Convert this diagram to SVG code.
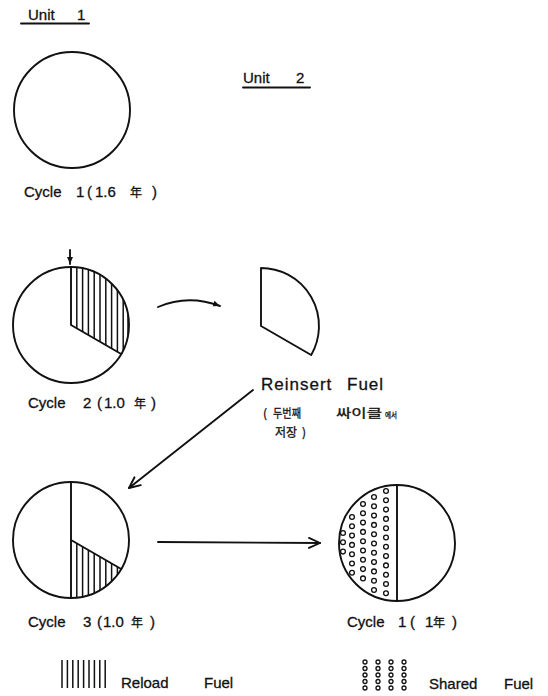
<svg xmlns="http://www.w3.org/2000/svg" width="548" height="696" viewBox="0 0 548 696">
<style>
.ln{fill:none;stroke:#111;stroke-width:1.9;stroke-linecap:round;stroke-linejoin:round}
.h{stroke:#111;stroke-width:1.5}
.dot{fill:none;stroke:#111;stroke-width:1.3}
.t{font-family:"Liberation Sans","Noto Sans CJK KR",sans-serif;font-size:15px;fill:#111;stroke:#111;stroke-width:0.3}
.big{font-size:17px;letter-spacing:1px}
.k{font-family:"Noto Sans CJK KR","Liberation Sans",sans-serif;font-size:12px;fill:#111;stroke:#111;stroke-width:0.3}
.cjk{font-family:"Noto Sans CJK KR",sans-serif;font-size:12px}
</style>
<defs>
<clipPath id="s2"><path d="M71,325 L71,267 A58,58 0 0,1 121.2,354 Z"/></clipPath>
<clipPath id="s3"><path d="M71,540 L121.2,569 A58,58 0 0,1 71,598 Z"/></clipPath>
<marker id="fa" markerWidth="8" markerHeight="8" refX="7" refY="4" orient="auto" markerUnits="userSpaceOnUse"><path d="M0,1 L7,4 L0,7 Z" fill="#111"/></marker>
<marker id="oa" markerWidth="14" markerHeight="14" refX="12" refY="7" orient="auto" markerUnits="userSpaceOnUse"><path d="M1,2 L12,7 L1,12" fill="none" stroke="#111" stroke-width="1.9" stroke-linecap="round" stroke-linejoin="round"/></marker>
</defs>
<rect width="548" height="696" fill="#fff"/>

<g id="unit1-title">
<text class="t" x="28" y="20">Unit</text><text class="t" x="77" y="20">1</text>
<line class="ln" x1="21" y1="23.5" x2="89" y2="23.5" stroke-width="1.4"/>
</g>
<g id="unit2-title">
<text class="t" x="243" y="83">Unit</text><text class="t" x="296" y="83">2</text>
<line class="ln" x1="243" y1="87.5" x2="310" y2="87.5" stroke-width="1.4"/>
</g>

<g id="u1-cycle1">
<circle class="ln" cx="72" cy="110" r="58"/>
<text class="t" y="197"><tspan x="24">Cycle</tspan><tspan x="76">1</tspan><tspan x="87">(</tspan><tspan x="95">1.6</tspan><tspan x="130" class="cjk">年</tspan><tspan x="152">)</tspan></text>
</g>

<g id="u1-cycle2">
<g clip-path="url(#s2)">
<line class="h" x1="76.8" y1="260" x2="76.8" y2="390"/><line class="h" x1="82.6" y1="260" x2="82.6" y2="390"/><line class="h" x1="88.4" y1="260" x2="88.4" y2="390"/><line class="h" x1="94.2" y1="260" x2="94.2" y2="390"/><line class="h" x1="100" y1="260" x2="100" y2="390"/><line class="h" x1="105.8" y1="260" x2="105.8" y2="390"/><line class="h" x1="111.6" y1="260" x2="111.6" y2="390"/><line class="h" x1="117.4" y1="260" x2="117.4" y2="390"/><line class="h" x1="123.2" y1="260" x2="123.2" y2="390"/><line class="h" x1="128" y1="260" x2="128" y2="390"/>
</g>
<circle class="ln" cx="71" cy="325" r="58"/>
<path class="ln" d="M71,267 L71,325 L121.2,354"/>
<text class="t" y="408"><tspan x="28">Cycle</tspan><tspan x="83">2</tspan><tspan x="97">(</tspan><tspan x="104">1.0</tspan><tspan x="134" class="cjk">年</tspan><tspan x="151">)</tspan></text>
</g>

<g id="reinsert">
<path class="ln" d="M261,326 L261,268 A58,58 0 0,1 311.2,355 Z"/>
<text class="t big" y="390"><tspan x="261">Reinsert</tspan><tspan x="347">Fuel</tspan></text>
<text class="k" y="418"><tspan x="263">(</tspan><tspan x="273" textLength="28" lengthAdjust="spacingAndGlyphs">두번째</tspan><tspan x="336" textLength="46" lengthAdjust="spacingAndGlyphs">싸이클</tspan><tspan x="385" font-size="8" textLength="12" lengthAdjust="spacingAndGlyphs">에서</tspan></text>
<text class="k" y="437"><tspan x="275">저장</tspan><tspan x="302">)</tspan></text>
</g>

<g id="u1-cycle3">
<g clip-path="url(#s3)">
<line class="h" x1="76.8" y1="530" x2="76.8" y2="600"/><line class="h" x1="82.6" y1="530" x2="82.6" y2="600"/><line class="h" x1="88.4" y1="530" x2="88.4" y2="600"/><line class="h" x1="94.2" y1="530" x2="94.2" y2="600"/><line class="h" x1="100" y1="530" x2="100" y2="600"/><line class="h" x1="105.8" y1="530" x2="105.8" y2="600"/><line class="h" x1="111.6" y1="530" x2="111.6" y2="600"/><line class="h" x1="117.4" y1="530" x2="117.4" y2="600"/>
</g>
<circle class="ln" cx="71" cy="540" r="58"/>
<path class="ln" d="M71,482 L71,598 M71,540 L121.2,569"/>
<text class="t" y="627"><tspan x="28">Cycle</tspan><tspan x="83">3</tspan><tspan x="97">(</tspan><tspan x="103">1.0</tspan><tspan x="131" class="cjk">年</tspan><tspan x="150">)</tspan></text>
</g>

<g id="u2-cycle1">
<g class="dot">
<circle cx="386" cy="491" r="2.4"/><circle cx="386" cy="500.3" r="2.4"/><circle cx="386" cy="509.6" r="2.4"/><circle cx="386" cy="518.9" r="2.4"/><circle cx="386" cy="528.2" r="2.4"/><circle cx="386" cy="537.5" r="2.4"/><circle cx="386" cy="546.8" r="2.4"/><circle cx="386" cy="556.1" r="2.4"/><circle cx="386" cy="565.4" r="2.4"/><circle cx="386" cy="574.7" r="2.4"/><circle cx="386" cy="584" r="2.4"/><circle cx="386" cy="593.3" r="2.4"/>
<circle cx="374" cy="497" r="2.4"/><circle cx="374" cy="506.3" r="2.4"/><circle cx="374" cy="515.6" r="2.4"/><circle cx="374" cy="524.9" r="2.4"/><circle cx="374" cy="534.2" r="2.4"/><circle cx="374" cy="543.5" r="2.4"/><circle cx="374" cy="552.8" r="2.4"/><circle cx="374" cy="562.1" r="2.4"/><circle cx="374" cy="571.4" r="2.4"/><circle cx="374" cy="580.7" r="2.4"/><circle cx="374" cy="590" r="2.4"/>
<circle cx="363" cy="504" r="2.4"/><circle cx="363" cy="513.3" r="2.4"/><circle cx="363" cy="522.6" r="2.4"/><circle cx="363" cy="531.9" r="2.4"/><circle cx="363" cy="541.2" r="2.4"/><circle cx="363" cy="550.5" r="2.4"/><circle cx="363" cy="559.8" r="2.4"/><circle cx="363" cy="569.1" r="2.4"/><circle cx="363" cy="578.4" r="2.4"/>
<circle cx="352" cy="517" r="2.4"/><circle cx="352" cy="526.3" r="2.4"/><circle cx="352" cy="535.6" r="2.4"/><circle cx="352" cy="544.9" r="2.4"/><circle cx="352" cy="554.2" r="2.4"/><circle cx="352" cy="563.5" r="2.4"/><circle cx="352" cy="572.8" r="2.4"/>
<circle cx="343" cy="533" r="2.4"/><circle cx="343" cy="542.3" r="2.4"/><circle cx="343" cy="551.6" r="2.4"/>
</g>
<circle class="ln" cx="397" cy="543" r="58"/>
<line class="ln" x1="397" y1="485" x2="397" y2="601"/>
<text class="t" y="627"><tspan x="347">Cycle</tspan><tspan x="398">1</tspan><tspan x="410">(</tspan><tspan x="425">1</tspan><tspan x="433" class="cjk">年</tspan><tspan x="452">)</tspan></text>
</g>

<g id="connectors">
<line class="ln" x1="70" y1="250" x2="70" y2="264" stroke-width="1.5" marker-end="url(#fa)"/>
<path class="ln" d="M158,307 Q188,294 220,306" marker-end="url(#fa)"/>
<line class="ln" x1="253" y1="390" x2="129" y2="488" marker-end="url(#oa)"/>
<line class="ln" x1="158" y1="542" x2="320" y2="543" marker-end="url(#oa)"/>
</g>

<g id="legend-reload">
<line class="h" x1="62" y1="660" x2="62" y2="688"/><line class="h" x1="67.4" y1="660" x2="67.4" y2="688"/><line class="h" x1="72.8" y1="660" x2="72.8" y2="688"/><line class="h" x1="78.2" y1="660" x2="78.2" y2="688"/><line class="h" x1="83.6" y1="660" x2="83.6" y2="688"/><line class="h" x1="89" y1="660" x2="89" y2="688"/><line class="h" x1="94.4" y1="660" x2="94.4" y2="688"/><line class="h" x1="99.8" y1="660" x2="99.8" y2="688"/><line class="h" x1="105.2" y1="660" x2="105.2" y2="688"/>
<text class="t" y="688"><tspan x="121">Reload</tspan><tspan x="204">Fuel</tspan></text>
</g>

<g id="legend-shared">
<g class="dot">
<circle cx="365" cy="662" r="2"/><circle cx="365" cy="668.5" r="2"/><circle cx="365" cy="675" r="2"/><circle cx="365" cy="681.5" r="2"/><circle cx="365" cy="688" r="2"/>
<circle cx="378" cy="662" r="2"/><circle cx="378" cy="668.5" r="2"/><circle cx="378" cy="675" r="2"/><circle cx="378" cy="681.5" r="2"/><circle cx="378" cy="688" r="2"/>
<circle cx="391" cy="662" r="2"/><circle cx="391" cy="668.5" r="2"/><circle cx="391" cy="675" r="2"/><circle cx="391" cy="681.5" r="2"/><circle cx="391" cy="688" r="2"/>
<circle cx="404" cy="662" r="2"/><circle cx="404" cy="668.5" r="2"/><circle cx="404" cy="675" r="2"/><circle cx="404" cy="681.5" r="2"/><circle cx="404" cy="688" r="2"/>
</g>
<text class="t" y="689"><tspan x="429">Shared</tspan><tspan x="504">Fuel</tspan></text>
</g>
</svg>
